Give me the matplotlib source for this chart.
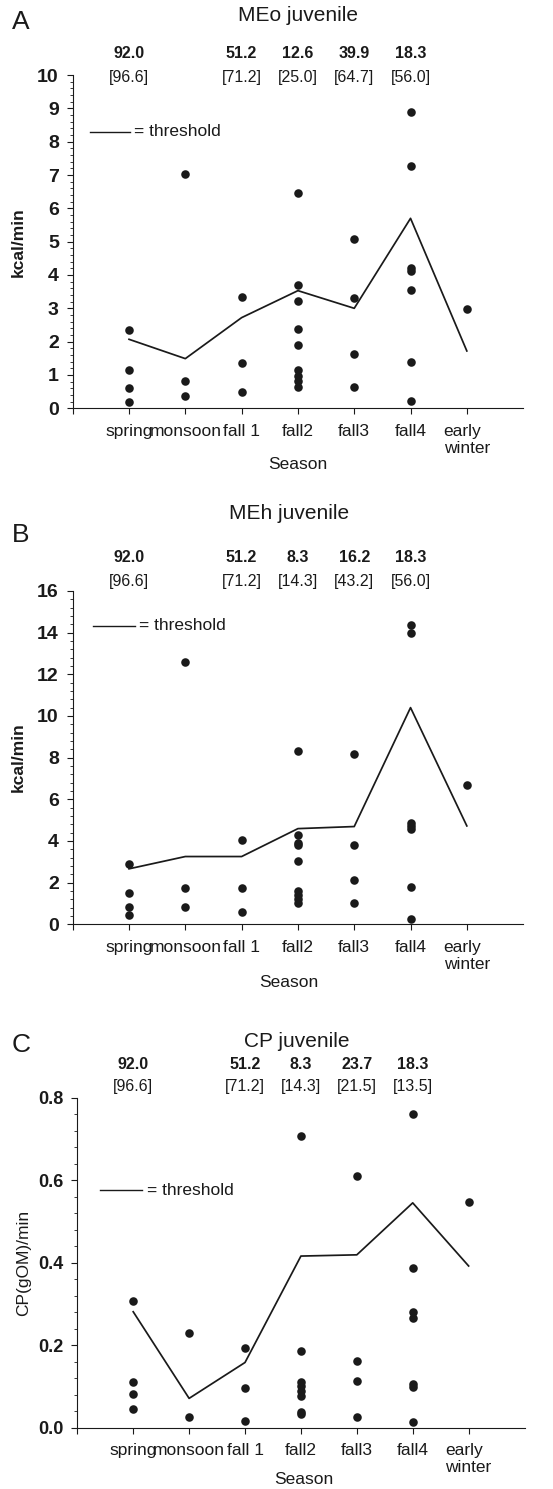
import matplotlib
matplotlib.use('Agg')
import matplotlib.pyplot as plt
from matplotlib.ticker import AutoMinorLocator, MultipleLocator
import matplotlib.transforms as mtransforms

plt.rcParams['font.family'] = ['Liberation Sans', 'DejaVu Sans']

seasons = ['spring', 'monsoon', 'fall 1', 'fall2', 'fall3', 'fall4', 'early\nwinter']

# MEo juvenile (kcal/min)
meo_points = [
    [2.35, 1.15, 0.62, 0.2],
    [7.03, 0.82, 0.38],
    [3.35, 1.36, 0.5],
    [6.45, 3.69, 3.22, 2.38, 1.9, 1.15, 0.98, 0.82, 0.65],
    [5.08, 3.32, 1.63, 0.65],
    [8.9, 7.27, 4.22, 4.13, 3.54, 1.4, 0.21],
    [2.99],
]
meo_threshold = [2.07, 1.49, 2.72, 3.53, 3.0, 5.7, 1.72]
meo_pct = ['92.0', '', '51.2', '12.6', '39.9', '18.3', '']
meo_bracket = ['[96.6]', '', '[71.2]', '[25.0]', '[64.7]', '[56.0]', '']

# MEh juvenile (kcal/min)
meh_points = [
    [2.88, 1.52, 0.85, 0.45],
    [12.6, 1.73, 0.85],
    [4.06, 1.74, 0.58],
    [8.3, 4.26, 3.92, 3.8, 3.04, 1.6, 1.4, 1.2, 1.0],
    [8.19, 3.82, 2.1, 1.04],
    [14.35, 13.97, 4.85, 4.72, 4.58, 1.79, 0.27],
    [6.69],
]
meh_threshold = [2.66, 3.25, 3.25, 4.59, 4.69, 10.4, 4.72]
meh_pct = ['92.0', '', '51.2', '8.3', '16.2', '18.3', '']
meh_bracket = ['[96.6]', '', '[71.2]', '[14.3]', '[43.2]', '[56.0]', '']

# CP juvenile (CP(gOM)/min)
cp_points = [
    [0.307, 0.11, 0.081, 0.045],
    [0.229, 0.025],
    [0.194, 0.095, 0.016],
    [0.706, 0.186, 0.11, 0.1, 0.09, 0.076, 0.037, 0.032],
    [0.611, 0.161, 0.113, 0.027],
    [0.76, 0.388, 0.281, 0.267, 0.106, 0.098, 0.014],
    [0.548],
]
cp_threshold = [0.281, 0.071, 0.158, 0.416, 0.419, 0.545, 0.392]
cp_pct = ['92.0', '', '51.2', '8.3', '23.7', '18.3', '']
cp_bracket = ['[96.6]', '', '[71.2]', '[14.3]', '[21.5]', '[13.5]', '']

ink = '#1a1a1a'

fig = plt.figure(figsize=(5.53, 14.89), dpi=100)

panels = [
    dict(rect=[0.1315, 0.7258, 0.8145, 0.2238], pts=meo_points, thr=meo_threshold,
         pct=meo_pct, br=meo_bracket, title='MEo juvenile', letter='A', ylim=10, major=1,
         ylabel='kcal/min', ylw='bold', tsize=14, title_y=1.18, title_x=0.50, pct_y=1.066,
         br_y=0.994, leg=(0.038, 0.127, 0.83), xl=(0.50, -0.147), letter_y=0.9852),
    dict(rect=[0.1315, 0.3793, 0.8145, 0.2238], pts=meh_points, thr=meh_threshold,
         pct=meh_pct, br=meh_bracket, title='MEh juvenile', letter='B', ylim=16, major=2,
         ylabel='kcal/min', ylw='bold', tsize=14, title_y=1.234, title_x=0.48, pct_y=1.10,
         br_y=1.028, leg=(0.044, 0.138, 0.896), xl=(0.48, -0.153), letter_y=0.6407),
    dict(rect=[0.1398, 0.0412, 0.8087, 0.2216], pts=cp_points, thr=cp_threshold,
         pct=cp_pct, br=cp_bracket, title='CP juvenile', letter='C', ylim=0.8, major=0.2,
         ylabel='CP(gOM)/min', ylw='normal', tsize=13, title_y=1.17, title_x=0.49, pct_y=1.102,
         br_y=1.035, leg=(0.051, 0.145, 0.72), xl=(0.507, -0.133), letter_y=0.2982),
]

xs = list(range(1, len(seasons) + 1))
label_shift = {'fall 1': 4, 'early\nwinter': 6}  # pixels, as in the original layout

for p in panels:
    ax = fig.add_axes(p['rect'])
    for x, vals in zip(xs, p['pts']):
        ax.scatter([x] * len(vals), vals, s=38, color=ink, zorder=3, linewidths=0)
    ax.plot(xs, p['thr'], color=ink, lw=1.25, zorder=2)

    ax.set_xlim(0, 8)
    ax.set_ylim(0, p['ylim'])
    ax.set_xticks(range(0, 8))
    ax.set_xticklabels([''] + seasons, fontsize=12.5, color=ink, multialignment='left')
    for lab in ax.get_xticklabels():
        dx = label_shift.get(lab.get_text(), 0)
        if dx:
            lab.set_transform(lab.get_transform() +
                              mtransforms.ScaledTranslation(dx / 100, 0, fig.dpi_scale_trans))
    ax.yaxis.set_major_locator(MultipleLocator(p['major']))
    ax.yaxis.set_minor_locator(AutoMinorLocator(5))
    if p['major'] < 1:
        ax.yaxis.set_major_formatter(plt.FormatStrFormatter('%.1f'))
    for lab in ax.get_yticklabels():
        lab.set_fontweight('bold')
        lab.set_fontsize(p['tsize'])
        lab.set_color(ink)

    ax.spines['top'].set_visible(False)
    ax.spines['right'].set_visible(False)
    ax.spines['left'].set_linewidth(0.8)
    ax.spines['bottom'].set_linewidth(0.8)
    ax.spines['left'].set_color(ink)
    ax.spines['bottom'].set_color(ink)
    ax.tick_params(axis='both', which='major', length=4, width=0.8, color=ink)
    ax.tick_params(axis='y', which='minor', length=2.2, width=0.6, color=ink)
    ax.tick_params(axis='y', which='major', pad=6)
    ax.tick_params(axis='x', which='major', pad=7)

    ax.set_xlabel('Season', fontsize=12.5, color=ink)
    ax.xaxis.set_label_coords(*p['xl'])
    ax.set_ylabel(p['ylabel'], fontsize=12.5, fontweight=p['ylw'], color=ink)
    ax.yaxis.set_label_coords(-0.104, 0.5)

    trans = mtransforms.blended_transform_factory(ax.transData, ax.transAxes)
    for x, t1, t2 in zip(xs, p['pct'], p['br']):
        if t1:
            ax.text(x, p['pct_y'], t1, transform=trans, ha='center', va='center',
                    fontsize=11.5, fontweight='bold', color=ink, clip_on=False)
        if t2:
            ax.text(x, p['br_y'], t2, transform=trans, ha='center', va='center',
                    fontsize=11.5, color=ink, clip_on=False)

    ax.text(p['title_x'], p['title_y'], p['title'], transform=ax.transAxes,
            ha='center', va='center', fontsize=15, color=ink)

    lx0, lx1, ly = p['leg']
    ax.plot([lx0, lx1], [ly, ly], transform=ax.transAxes, color=ink, lw=1.0, clip_on=False)
    ax.text(lx1 + 0.01, ly, '= threshold', transform=ax.transAxes, ha='left',
            va='center', fontsize=12.5, color=ink)

    fig.text(0.0217, p['letter_y'], p['letter'], ha='left', va='center',
             fontsize=19, color=ink)

fig.savefig('out.png', dpi=100)
